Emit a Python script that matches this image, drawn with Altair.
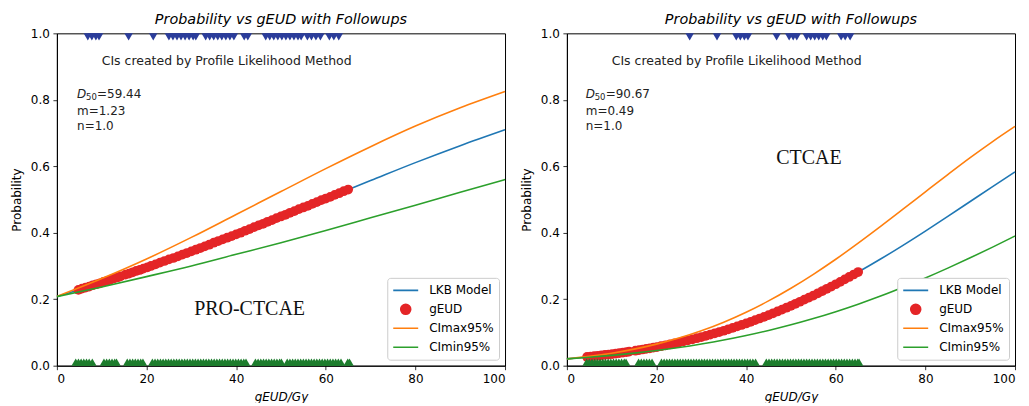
import altair as alt
import pandas as pd

F = "DejaVu Sans"
SERIES = ["LKB Model", "gEUD", "CImax95%", "CImin95%"]
COLORS = ["#1f77b4", "#e42527", "#ff7f0e", "#2ca02c"]
EV1_COLOR = "#2b3d9b"
EV0_COLOR = "#1d7d2d"

# ---------------- left panel (PRO-CTCAE) ----------------
L_DOSE = [0, 10, 20, 30, 40, 50, 60, 70, 80, 90, 100]
L_LKB = [0.208, 0.250, 0.295, 0.344, 0.395, 0.449, 0.503, 0.557, 0.611, 0.662, 0.710]
L_CIMAX = [0.208, 0.262, 0.321, 0.386, 0.455, 0.524, 0.593, 0.659, 0.721, 0.776, 0.825]
L_CIMIN = [0.208, 0.237, 0.268, 0.300, 0.335, 0.370, 0.407, 0.445, 0.483, 0.522, 0.560]
L_GEUD_X = [4.8, 5.6, 6.4, 7.2, 8.0, 8.8, 9.6, 10.4, 11.2, 12.0, 12.8, 13.6, 14.2,
            15.3, 16.1, 16.9, 17.7, 18.5, 19.3, 20.2,
            21, 22, 23, 24, 25, 26, 27, 28, 29, 30, 31, 32, 33, 34, 35, 36, 37, 38, 39,
            40, 41, 42, 43, 44, 45, 46, 47, 48, 49, 50, 51, 52, 53, 54, 55, 56, 57, 58,
            59, 60, 61, 62, 63, 64, 65]
L_GEUD_Y = [0.228, 0.232, 0.235, 0.238, 0.242, 0.245, 0.248, 0.252, 0.255, 0.259, 0.263, 0.266, 0.269,
            0.274, 0.277, 0.281, 0.285, 0.288, 0.292, 0.296,
            0.300, 0.305, 0.310, 0.315, 0.320, 0.324, 0.329, 0.334, 0.339,
            0.344, 0.349, 0.354, 0.359, 0.364, 0.370, 0.375, 0.380, 0.385, 0.390,
            0.395, 0.400, 0.406, 0.411, 0.417, 0.422, 0.427, 0.433, 0.438, 0.444,
            0.449, 0.454, 0.460, 0.465, 0.471, 0.476, 0.481, 0.487, 0.492, 0.498,
            0.503, 0.508, 0.514, 0.519, 0.525, 0.530]
L_EVENT1 = [6.9, 7.8, 8.7, 9.4, 16.0, 21.5,
            25.0, 25.9, 26.8, 27.7, 28.6, 29.5, 30.4, 31.0,
            33.2, 34.1, 35.0, 35.9, 36.8, 37.7, 38.6, 39.5, 41.8, 42.6,
            46.6, 47.5, 48.4, 49.3, 50.2, 51.1, 52.0, 52.9, 53.8, 54.5,
            55.9, 56.8, 57.8, 58.8, 60.8, 61.8, 62.9]
L_EVENT0 = [4.2, 4.8, 5.4, 6.0, 6.6, 7.2, 7.9,
            10.5, 11.1, 11.7, 12.3, 12.9, 13.3,
            15.7, 16.3, 16.9, 17.5, 18.1, 18.7, 19.2,
            21.3, 21.9, 22.5, 23.1, 23.7, 24.3, 24.9, 25.5, 26.1, 26.7, 27.3, 27.9, 28.5, 29.1,
            29.7, 30.3, 30.9, 31.5, 32.1, 32.7, 33.3, 33.9, 34.5, 35.1, 35.7, 36.3, 36.9, 37.5,
            38.1, 38.7, 39.3, 39.9, 40.5, 41.1, 41.7, 42.2,
            44.3, 44.9, 45.5, 46.1, 46.7, 47.3, 47.9, 48.5, 49.1, 49.7, 50.1,
            51.4, 52.0, 52.6, 53.2, 53.8, 54.4, 55.0, 55.6, 56.2, 56.8, 57.4, 58.0, 58.6, 59.2,
            59.8, 60.4, 61.0, 61.6, 62.2, 62.8, 63.4,
            64.9, 65.3]

# ---------------- right panel (CTCAE) ----------------
R_DOSE = [0, 5, 10, 15, 20, 25, 30, 35, 40, 45, 50, 55, 60, 65, 70, 75, 80, 85, 90, 95, 100]
R_LKB = [0.0206, 0.0269, 0.0347, 0.0443, 0.0558, 0.0697, 0.0860, 0.1051, 0.1270, 0.1520, 0.1800,
         0.2110, 0.2450, 0.2817, 0.3209, 0.3622, 0.4051, 0.4492, 0.4940, 0.5388, 0.5832]
R_CIMAX = [0.0206, 0.0281, 0.0376, 0.0498, 0.0648, 0.0830, 0.1049, 0.1308, 0.1608, 0.1949, 0.2330,
           0.2749, 0.3202, 0.3688, 0.4192, 0.4709, 0.5231, 0.5750, 0.6259, 0.6744, 0.7201]
R_CIMIN = [0.0206, 0.0254, 0.0311, 0.0378, 0.0456, 0.0547, 0.0653, 0.0772, 0.0908, 0.1060, 0.1230,
           0.1419, 0.1626, 0.1851, 0.2095, 0.2360, 0.2640, 0.2936, 0.3246, 0.3568, 0.3901]
R_GEUD_X = [4.5, 5.3, 6.1, 6.9, 7.7, 8.5, 9.3, 10.1, 10.9, 11.7, 12.5, 13.3, 13.9,
            15.3, 16.1, 16.9, 17.7, 18.5, 19.3, 20.1,
            21, 22, 23, 24, 25, 26, 27, 28, 29, 30, 31, 32, 33, 34, 35, 36, 37, 38, 39,
            40, 41, 42, 43, 44, 45, 46, 47, 48, 49, 50, 51, 52, 53, 54, 55, 56, 57, 58,
            59, 60, 61, 62, 63, 64, 65]
R_GEUD_Y = [0.0263, 0.0274, 0.0286, 0.0299, 0.0311, 0.0324, 0.0336, 0.0349, 0.0364, 0.0380, 0.0395,
            0.0410, 0.0422,
            0.0450, 0.0468, 0.0487, 0.0505, 0.0523, 0.0542, 0.0561,
            0.0586, 0.0613, 0.0641, 0.0669, 0.0697, 0.0730, 0.0762, 0.0795, 0.0827,
            0.0860, 0.0898, 0.0937, 0.0975, 0.1013, 0.1051, 0.1095, 0.1139, 0.1182, 0.1226,
            0.1270, 0.1320, 0.1370, 0.1420, 0.1470, 0.1520, 0.1576, 0.1632, 0.1688, 0.1744,
            0.1800, 0.1862, 0.1924, 0.1986, 0.2048, 0.2110, 0.2178, 0.2246, 0.2314, 0.2382,
            0.2450, 0.2523, 0.2597, 0.2670, 0.2744, 0.2817]
R_EVENT1 = [27.4, 33.5, 37.8, 38.7, 39.6, 40.4, 46.8, 49.6, 50.5, 51.3,
            53.5, 54.4, 55.3, 56.2, 57.1, 57.9, 61.2, 62.1, 63.2]
R_EVENT0 = [4.4, 5.0, 5.6, 6.2, 6.8, 7.4, 8.0, 8.6, 9.2, 9.8, 10.4, 11.0, 11.6, 12.2, 12.8, 13.2,
            16.0, 16.6, 17.2, 17.8, 18.4, 19.0,
            21.1, 21.7, 22.3, 22.9, 23.5, 24.1, 24.7, 25.3, 25.9, 26.5, 27.1, 27.7, 28.3, 28.9,
            29.5, 30.1, 30.7, 31.3, 31.9, 32.5, 33.1, 33.7, 34.3, 34.9, 35.5, 36.1, 36.7, 37.3,
            37.9, 38.5, 39.1, 39.7, 40.3, 40.9, 41.5, 42.1,
            44.5, 45.1, 45.7, 46.3, 46.9, 47.5, 48.1, 48.7, 49.3, 49.9, 50.5, 51.1, 51.7, 52.3,
            52.9, 53.5, 54.1, 54.7, 55.3, 55.9, 56.5, 57.1, 57.7, 58.3, 58.9, 59.5, 60.1, 60.7,
            61.3, 61.9, 62.5, 63.1, 63.7, 64.3, 64.9, 65.2]

TITLE = "Probability vs gEUD with Followups"
CI_TEXT = "CIs created by Profile Likelihood Method"

CIRCLE_PATH = "M0,-0.4A0.4,0.4,0,1,1,0,0.4A0.4,0.4,0,1,1,0,-0.4Z"


def panel(dose, lkb, cimax, cimin, gx, gy, ev1, ev0, params, label, label_pos, param_x):
    n = len(dose)
    curves = pd.DataFrame({
        "dose": dose * 3,
        "prob": lkb + cimax + cimin,
        "series": ["LKB Model"] * n + ["CImax95%"] * n + ["CImin95%"] * n,
    })
    dots = pd.DataFrame({"dose": gx, "prob": gy, "series": ["gEUD"] * len(gx)})
    e1 = pd.DataFrame({"dose": ev1, "prob": [1.0] * len(ev1)})
    e0 = pd.DataFrame({"dose": ev0, "prob": [0.0] * len(ev0)})

    x = alt.X("dose:Q", scale=alt.Scale(domain=[0, 100], nice=False, zero=False),
              axis=alt.Axis(values=[0, 20, 40, 60, 80, 100], title="gEUD/Gy",
                            titleFontStyle="italic", format="d"))
    y = alt.Y("prob:Q", scale=alt.Scale(domain=[0, 1], nice=False),
              axis=alt.Axis(values=[0, 0.2, 0.4, 0.6, 0.8, 1.0], format=".1f",
                            title="Probability"))
    legend = alt.Legend(
        title=None, orient="bottom-right", offset=6, padding=5,
        fillColor="white", strokeColor="#cccccc", cornerRadius=3,
        labelFont=F, labelFontSize=12, labelColor="black", labelOffset=10,
        symbolSize=625, symbolStrokeWidth=1.6, clipHeight=15, rowPadding=4,
        symbolType=alt.ExprRef(expr="datum.value === 'gEUD' ? '" + CIRCLE_PATH + "' : 'stroke'"),
        symbolFillColor=alt.ExprRef(expr="datum.value === 'gEUD' ? '#e42527' : 'transparent'"),
        symbolStrokeColor=alt.ExprRef(
            expr="datum.value === 'gEUD' ? 'transparent' : datum.value === 'LKB Model' ? '#1f77b4' : "
                 "datum.value === 'CImax95%' ? '#ff7f0e' : '#2ca02c'"),
        symbolOpacity=1,
    )
    color = alt.Color("series:N", scale=alt.Scale(domain=SERIES, range=COLORS), legend=legend)

    lkb_line = alt.Chart(curves).transform_filter(alt.datum.series == "LKB Model").mark_line(
        strokeWidth=1.6, interpolate="monotone").encode(x=x, y=y, color=color)
    dot_layer = alt.Chart(dots).mark_circle(size=95, opacity=1).encode(x=x, y=y, color=color)
    ci_lines = alt.Chart(curves).transform_filter(alt.datum.series != "LKB Model").mark_line(
        strokeWidth=1.6, interpolate="monotone").encode(x=x, y=y, color=color, detail="series:N")
    ev1_layer = alt.Chart(e1).mark_point(shape="triangle-down", filled=True, size=280, opacity=1,
                                         color=EV1_COLOR, clip=True).encode(x=x, y=y)
    ev0_layer = alt.Chart(e0).mark_point(shape="triangle-up", filled=True, size=280, opacity=1,
                                         color=EV0_COLOR, clip=True).encode(x=x, y=y)

    ci_text = alt.Chart(pd.DataFrame({"dose": [10.0], "prob": [0.917], "t": [CI_TEXT]})).mark_text(
        align="left", baseline="middle", font=F, fontSize=12.5, color="#222222").encode(
        x=x, y=y, text="t:N")
    pdf = pd.DataFrame({"dose": [param_x], "prob": [0.818]})
    d_txt = alt.Chart(pdf).mark_text(align="left", baseline="middle", font=F, fontSize=12,
                                     fontStyle="italic", text="D", color="#222222").encode(x=x, y=y)
    sub_txt = alt.Chart(pdf).mark_text(align="left", baseline="middle", font=F, fontSize=8.5,
                                       text="50", dx=9, dy=3, color="#222222").encode(x=x, y=y)
    rest = pd.DataFrame({"dose": [param_x] * 3, "prob": [0.818, 0.767, 0.720],
                         "t": ["=" + params[0], "m=" + params[1], "n=" + params[2]]})
    eq_txt = alt.Chart(rest.iloc[[0]]).mark_text(align="left", baseline="middle", font=F,
                                                 fontSize=12, dx=20, color="#222222").encode(
        x=x, y=y, text="t:N")
    mn_txt = alt.Chart(rest.iloc[[1, 2]]).mark_text(align="left", baseline="middle", font=F,
                                                    fontSize=12, color="#222222").encode(
        x=x, y=y, text="t:N")
    big = alt.Chart(pd.DataFrame({"dose": [label_pos[0]], "prob": [label_pos[1]], "t": [label]})).mark_text(
        align="center", baseline="middle", font="Liberation Serif", fontSize=20, color="#111111").encode(
        x=x, y=y, text="t:N")

    return alt.layer(lkb_line, dot_layer, ci_lines, ev1_layer, ev0_layer, ci_text, d_txt, sub_txt,
                     eq_txt, mn_txt, big).properties(
        width=449, height=333,
        title=alt.TitleParams(TITLE, fontStyle="italic", fontSize=14.4, fontWeight="normal", font=F,
                              anchor="middle", offset=0, color="black"))


left = panel(L_DOSE, L_LKB, L_CIMAX, L_CIMIN, L_GEUD_X, L_GEUD_Y, L_EVENT1, L_EVENT0,
             ["59.44", "1.23", "1.0"], "PRO-CTCAE", (43.0, 0.170), 4.5)
right = panel(R_DOSE, R_LKB, R_CIMAX, R_CIMIN, R_GEUD_X, R_GEUD_Y, R_EVENT1, R_EVENT0,
              ["90.67", "0.49", "1.0"], "CTCAE", (54.0, 0.626), 4.2)

chart = alt.hconcat(left, right, spacing=62, bounds="flush").resolve_scale(
    color="independent").resolve_legend(color="independent").properties(
    padding={"left": 1, "top": 3, "right": 2, "bottom": 0}
).configure(font=F).configure_axis(
    labelFont=F, titleFont=F, labelFontSize=12, titleFontSize=12, titleFontWeight="normal",
    labelColor="black", titleColor="black", tickColor="black", domainColor="black",
    tickSize=4, tickWidth=0.8, domainWidth=1, grid=False, labelPadding=3.5
).configure_axisY(titlePadding=7).configure_axisX(titlePadding=7).configure_view(
    stroke="black", strokeWidth=1)

chart.save("out.html", embed_options={"renderer": "svg", "actions": False})
